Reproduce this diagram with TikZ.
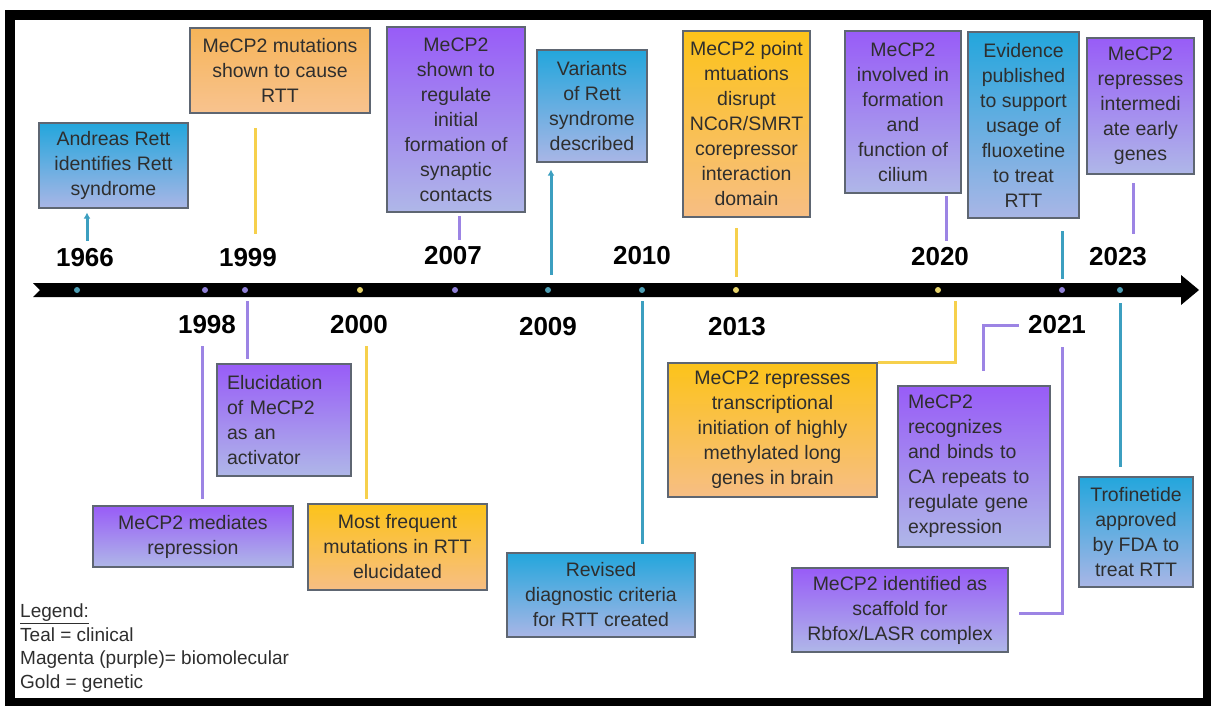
\documentclass[tikz,border=0pt]{standalone}
\usepackage{fontspec}
\setmainfont{Liberation Sans}
\usetikzlibrary{
  arrows.meta,
  calc
}
\definecolor{tealtop}{HTML}{23A6DC}
\definecolor{tealbottom}{HTML}{A9B6E6}
\definecolor{purpletop}{HTML}{985CF7}
\definecolor{purplebottom}{HTML}{AFB7E8}
\definecolor{goldtop}{HTML}{FCC31A}
\definecolor{goldbottom}{HTML}{F7BE84}
\definecolor{peachtop}{HTML}{F6B458}
\definecolor{peachbottom}{HTML}{F8C38F}
\definecolor{tealline}{HTML}{3C9FC0}
\definecolor{purpleline}{HTML}{9C84E4}
\definecolor{goldline}{HTML}{F6D04C}
\definecolor{tealdot}{HTML}{4C9DB3}
\definecolor{purpledot}{HTML}{8F7FD6}
\definecolor{golddot}{HTML}{E6D36A}
\definecolor{boxedge}{HTML}{5E6672}
\definecolor{ink}{HTML}{2E2E2E}
\tikzset{
  % For the coloured event boxes.
  event/.style={
    draw=boxedge,
    line width=1.2pt,
    inner sep=0pt,
    align=center,
    text=ink,
    font=\fontsize{19.5}{25}\selectfont},
%
  % Teal boxes.
  clinical/.style={
    event,
    top color=tealtop,
    bottom color=tealbottom},
%
  % Purple boxes.
  biomolecular/.style={
    event,
    top color=purpletop,
    bottom color=purplebottom},
%
  % Gold boxes.
  genetic/.style={
    event,
    top color=goldtop,
    bottom color=goldbottom},
%
  % For the lines between the time line and the boxes.
  link/.style={
    line width=3pt},
  clinical link/.style={
    link,
    draw=tealline},
  biomolecular link/.style={
    link,
    draw=purpleline},
  genetic link/.style={
    link,
    draw=goldline},
%
  % For the years.
  year/.style={
    inner sep=0pt,
    font=\fontsize{26}{26}\selectfont\bfseries},
%
  % For small dots on the time line.
  dot/.style={
    circle,
    inner sep=0pt,
    minimum size=6pt},
%
  % For the legend.
  legend/.style={
    inner sep=0pt,
    align=left,
    text=ink,
    font=\fontsize{19}{23.5}\selectfont}
}

\begin{document}
\begin{tikzpicture}[x=1pt, y=-1pt]
  \useasboundingbox (0,0) rectangle (1211,706);
  \draw[line width=10pt] (10,15) rectangle (1208,703);

  % time line
  \fill (33,283) -- (1181,283) -- (1181,275) -- (1199,290) -- (1181,305)
        -- (1181,297) -- (33,297) -- (40,290) -- cycle;

  \node[dot, fill=tealdot] (dot 1966) at (77,290) {};
  \node[dot, fill=purpledot] (dot 1998) at (205,290) {};
  \node[dot, fill=purpledot] (dot 1999) at (245,290) {};
  \node[dot, fill=golddot] (dot 2000) at (360,290) {};
  \node[dot, fill=purpledot] (dot 2007) at (455,290) {};
  \node[dot, fill=tealdot] (dot 2009) at (548,290) {};
  \node[dot, fill=tealdot] (dot 2010) at (642,290) {};
  \node[dot, fill=golddot] (dot 2013) at (736,290) {};
  \node[dot, fill=golddot] (dot 2020) at (938,290) {};
  \node[dot, fill=purpledot] (dot 2021) at (1062,290) {};
  \node[dot, fill=tealdot] (dot 2023) at (1120,290) {};

  \node[year] (year 1966) at (85,258) {1966};
  \node[year] (year 1999) at (248,258) {1999};
  \node[year] (year 2007) at (453,256) {2007};
  \node[year] (year 2010) at (642,256) {2010};
  \node[year] (year 2020) at (940,257) {2020};
  \node[year] (year 2023) at (1118,257) {2023};
  \node[year] (year 1998) at (207,325) {1998};
  \node[year] (year 2000) at (359,325) {2000};
  \node[year] (year 2009) at (548,327) {2009};
  \node[year] (year 2013) at (737,327) {2013};
  \node[year] (year 2021) at (1057,325) {2021};

  % boxes above the line
  \node[clinical, minimum width=149pt, minimum height=85pt]
    (box 1966) at (113.5,165.5) {Andreas Rett\\identifies Rett\\syndrome};
  \node[genetic, top color=peachtop, bottom color=peachbottom,
        minimum width=180pt, minimum height=85pt]
    (box 1999 top) at (280,70.5) {MeCP2 mutations\\shown to cause\\RTT};
  \node[biomolecular, minimum width=138pt, minimum height=185pt]
    (box 2007) at (456,119.5)
    {MeCP2\\shown to\\regulate\\initial\\formation of\\synaptic\\contacts};
  \node[clinical, minimum width=110pt, minimum height=112pt]
    (box 2009) at (592,106) {Variants\\of Rett\\syndrome\\described};
  \node[genetic, minimum width=127pt, minimum height=186pt]
    (box 2013 top) at (746.5,124)
    {MeCP2 point\\mtuations\\disrupt\\NCoR/SMRT\\corepressor\\interaction\\domain};
  \node[biomolecular, minimum width=116pt, minimum height=162pt]
    (box 2020 top) at (903,112)
    {MeCP2\\involved in\\formation\\and\\function of\\cilium};
  \node[clinical, minimum width=111pt, minimum height=186pt]
    (box 2021 top) at (1023.5,125)
    {Evidence\\published\\to support\\usage of\\fluoxetine\\to treat\\RTT};
  \node[biomolecular, minimum width=107pt, minimum height=136pt]
    (box 2023 top) at (1140.5,106)
    {MeCP2\\represses\\intermedi\\ate early\\genes};

  % boxes below the line
  \node[biomolecular, minimum width=200pt, minimum height=61pt]
    (box 1998) at (193,536.5) {MeCP2 mediates\\repression};
  \node[biomolecular, align=left, text width=114pt, inner xsep=10pt,
        minimum height=112pt]
    (box 1999) at (284,420) {Elucidation\\of MeCP2\\as an\\activator};
  \node[genetic, minimum width=179pt, minimum height=86pt]
    (box 2000) at (397.5,547) {Most frequent\\mutations in RTT\\elucidated};
  \node[clinical, minimum width=188pt, minimum height=84pt]
    (box 2010) at (601,595) {Revised\\diagnostic criteria\\for RTT created};
  \node[genetic, minimum width=209pt, minimum height=134pt]
    (box 2020) at (772.5,430)
    {MeCP2 represses\\transcriptional\\initiation of highly\\methylated long\\genes in brain};
  \node[biomolecular, align=left, text width=132pt, inner xsep=10pt,
        minimum height=161pt]
    (box 2021 ca) at (974,466.5)
    {MeCP2\\recognizes\\and binds to\\CA repeats to\\regulate gene\\expression};
  \node[biomolecular, minimum width=216pt, minimum height=84pt]
    (box 2021 scaffold) at (900,610)
    {MeCP2 identified as\\scaffold for\\Rbfox/LASR complex};
  \node[clinical, minimum width=114pt, minimum height=110pt]
    (box 2023) at (1136,532) {Trofinetide\\approved\\by FDA to\\treat RTT};

  % links above the line
  \draw[clinical link, -{Latex[length=6pt,width=7pt]},
        shorten <=8pt, shorten >=4pt]
    ([xshift=2pt]year 1966.north) -- ([xshift=2pt]year 1966.north |- box 1966.south);
  \draw[genetic link, shorten <=15pt, shorten >=14pt]
    ([xshift=7pt]year 1999.north) -- ([xshift=7pt]year 1999.north |- box 1999 top.south);
  \draw[biomolecular link, shorten <=7pt, shorten >=3pt]
    ([xshift=6pt]year 2007.north) -- ([xshift=6pt]year 2007.north |- box 2007.south);
  \draw[clinical link, -{Latex[length=6pt,width=7pt]},
        shorten <=12pt, shorten >=7pt]
    ([xshift=3pt]dot 2009.north) -- ([xshift=3pt]dot 2009.north |- box 2009.south);
  \draw[genetic link, shorten <=10pt, shorten >=10pt]
    (dot 2013.north) -- (dot 2013.north |- box 2013 top.south);
  \draw[biomolecular link, shorten <=7pt, shorten >=2pt]
    ([xshift=6pt]year 2020.north) -- ([xshift=6pt]year 2020.north |- box 2020 top.south);
  \draw[clinical link, shorten <=8pt, shorten >=12pt]
    (dot 2021.north) -- (dot 2021.north |- box 2021 top.south);
  \draw[biomolecular link, shorten <=14pt, shorten >=8pt]
    ([xshift=15pt]year 2023.north) -- ([xshift=15pt]year 2023.north |- box 2023 top.south);

  % links below the line
  \draw[biomolecular link, shorten <=12pt, shorten >=6pt]
    ([xshift=-5pt]year 1998.south) -- ([xshift=-5pt]year 1998.south |- box 1998.north);
  \draw[biomolecular link, shorten <=8pt, shorten >=4pt]
    ([xshift=2pt]dot 1999.south) -- ([xshift=2pt]dot 1999.south |- box 1999.north);
  \draw[genetic link, shorten <=12pt, shorten >=4pt]
    ([xshift=7pt]year 2000.south) -- ([xshift=7pt]year 2000.south |- box 2000.north);
  \draw[clinical link, shorten <=8pt, shorten >=8pt]
    (dot 2010.south) -- (dot 2010.south |- box 2010.north);
  \draw[genetic link, shorten <=8pt]
    ([xshift=17pt]dot 2020.south) |- (box 2020.north east);
  \draw[biomolecular link, shorten <=9pt, shorten >=14pt]
    (year 2021.west) -| ([xshift=9pt]box 2021 ca.north);
  \draw[biomolecular link, shorten <=13pt, shorten >=10pt]
    ([xshift=5pt]year 2021.south) |- ([yshift=-3pt]box 2021 scaffold.east);
  \draw[clinical link, shorten <=10pt, shorten >=9pt]
    (dot 2023.south) -- (dot 2023.south |- box 2023.north);

  \node[legend, anchor=north west] (legend) at (20,604)
    {\underline{Legend:}\\Teal = clinical\\Magenta (purple)= biomolecular\\Gold = genetic};
\end{tikzpicture}
\end{document}
